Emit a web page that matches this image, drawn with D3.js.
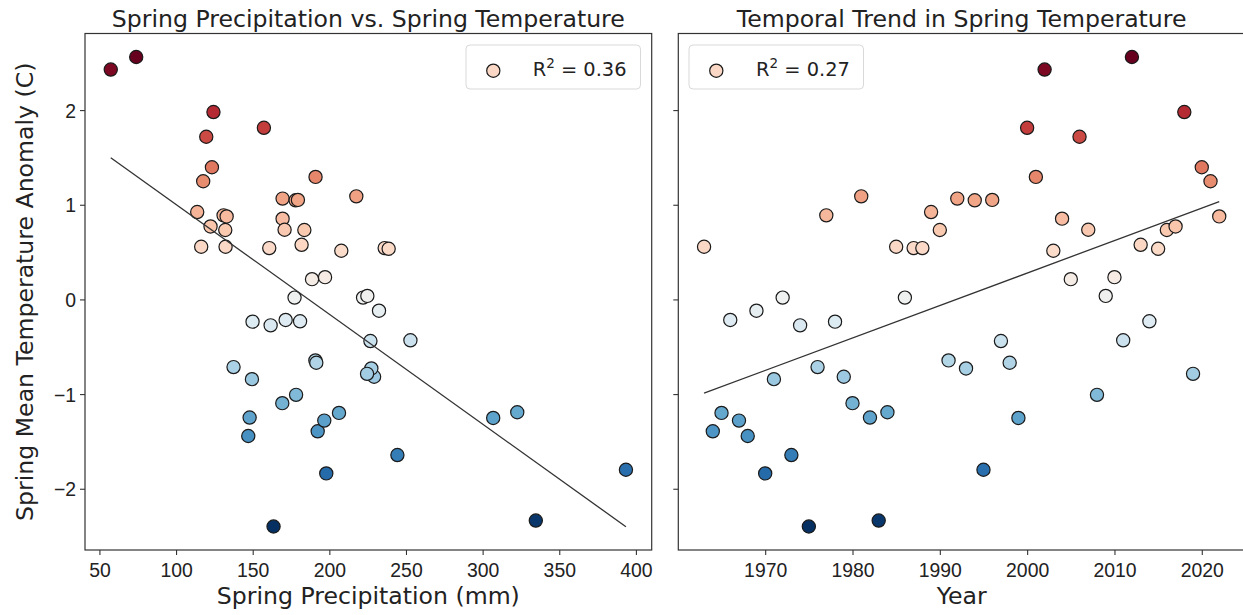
<!DOCTYPE html>
<html>
<head>
<meta charset="utf-8">
<script src="https://cdn.jsdelivr.net/npm/d3@7"></script>
<style>
  html, body { margin: 0; padding: 0; background: #fff; }
  svg { display: block; font-family: "DejaVu Sans", sans-serif; }
</style>
</head>
<body>
<svg id="chart" width="1243" height="615"></svg>
<script>
// ---------- data ----------
const years = [1963,1964,1965,1966,1967,1968,1969,1970,1971,1972,
               1973,1974,1975,1976,1977,1978,1979,1980,1981,1982,
               1983,1984,1985,1986,1987,1988,1989,1990,1991,1992,
               1993,1994,1995,1996,1997,1998,1999,2000,2001,2002,
               2003,2004,2005,2006,2007,2008,2009,2010,2011,2012,
               2013,2014,2015,2016,2017,2018,2019,2020,2021,2022];
const tempAnomaly = [0.556,-1.393,-1.199,-0.217,-1.280,-1.443,-0.119,-1.838,-0.842,0.019,
                     -1.644,-0.274,-2.399,-0.715,0.888,-0.235,-0.817,-1.096,1.089,-1.248,
                     -2.336,-1.192,0.556,0.019,0.542,0.542,0.923,0.733,-0.644,1.065,
                     -0.729,1.047,-1.799,1.051,-0.440,-0.669,-1.252,1.813,1.294,2.428,
                     0.514,0.853,0.214,1.718,0.736,-1.008,0.037,0.235,-0.432,2.561,
                     0.577,-0.231,0.535,0.733,0.771,1.979,-0.786,1.396,1.248,0.877];
const springPrecip = [116.4,192.4,206.3,171.5,196.7,147.1,232.4,198.0,149.5,177.3,
                      244.4,161.7,163.6,137.5,131.0,149.9,229.2,169.3,217.6,148.0,
                      334.7,322.6,132.3,222.0,160.8,236.1,113.8,132.1,190.9,169.5,
                      227.4,178.0,393.5,179.5,226.8,191.5,306.9,157.3,191.0,57.4,
                      207.8,169.5,188.7,119.7,170.8,178.3,224.8,197.2,252.9,74.0,
                      181.9,180.9,238.7,183.7,122.5,124.4,224.6,123.4,117.7,133.0];
const precipTicks = [50,100,150,200,250,300,350,400];
const yearTicks = [1970,1980,1990,2000,2010,2020];
const tempTicks = [-2,-1,0,1,2];
const panelTitles = ["Spring Precipitation vs. Spring Temperature", "Temporal Trend in Spring Temperature"];
const xLabels = ["Spring Precipitation (mm)", "Year"];
const yLabel = "Spring Mean Temperature Anomaly (C)";
const r2Values = ["0.36", "0.27"];

// ---------- layout ----------
const svg = d3.select("#chart");
const plotTop = 33.5, plotBottom = 550;
const panels = [
  { x0: 85, x1: 651.7, xs: springPrecip, ticks: precipTicks, fmt: d3.format("d"), legendX: 466, legendTextX: 532.7 },
  { x0: 678.3, x1: 1245, xs: years, ticks: yearTicks, fmt: d3.format("d"), legendX: 689, legendTextX: 756 }
];

function padDomain(arr) {
  const [a, b] = d3.extent(arr);
  const m = (b - a) * 0.05;
  return [a - m, b + m];
}

const y = d3.scaleLinear().domain(padDomain(tempAnomaly)).range([plotBottom, plotTop]);
const [tMin, tMax] = d3.extent(tempAnomaly);
const color = v => d3.interpolateRdBu(1 - (v - tMin) / (tMax - tMin));

const tickFont = 19.4;
const labelFont = 23.6;

panels.forEach((p, i) => {
  const x = d3.scaleLinear().domain(padDomain(p.xs)).range([p.x0, p.x1]);
  const g = svg.append("g");

  // regression
  const n = p.xs.length;
  const mx = d3.mean(p.xs), my = d3.mean(tempAnomaly);
  let sxy = 0, sxx = 0;
  for (let k = 0; k < n; k++) { sxy += (p.xs[k]-mx)*(tempAnomaly[k]-my); sxx += (p.xs[k]-mx)**2; }
  const slope = sxy / sxx, icpt = my - slope * mx;
  const [xa, xb] = d3.extent(p.xs);

  // points
  g.selectAll("circle.pt").data(d3.range(n)).join("circle")
    .attr("class", "pt")
    .attr("cx", k => x(p.xs[k]))
    .attr("cy", k => y(tempAnomaly[k]))
    .attr("r", 6.6)
    .attr("fill", k => color(tempAnomaly[k]))
    .attr("stroke", "#1a1a1a")
    .attr("stroke-width", 1.2);

  g.append("line")
    .attr("x1", x(xa)).attr("y1", y(icpt + slope * xa))
    .attr("x2", x(xb)).attr("y2", y(icpt + slope * xb))
    .attr("stroke", "#333").attr("stroke-width", 1.3);

  // axes
  const xAxis = g.append("g").attr("transform", `translate(0,${plotBottom})`)
    .call(d3.axisBottom(x).tickValues(p.ticks).tickFormat(p.fmt).tickSize(5).tickSizeOuter(0));
  xAxis.select(".domain").remove();
  xAxis.selectAll("text").attr("y", 27).attr("dy", null)
    .style("font-size", tickFont + "px").attr("fill", "#222");
  xAxis.selectAll("line").attr("stroke", "#333").attr("stroke-width", 1.1);

  const yAxis = g.append("g").attr("transform", `translate(${p.x0},0)`)
    .call(d3.axisLeft(y).tickValues(tempTicks).tickFormat(d3.format("d")).tickSize(5).tickSizeOuter(0));
  yAxis.select(".domain").remove();
  yAxis.selectAll("line").attr("stroke", "#333").attr("stroke-width", 1.1);
  if (i === 0) {
    yAxis.selectAll("text").attr("x", -9).attr("dy", "0.36em")
      .style("font-size", tickFont + "px").attr("fill", "#222");
  } else {
    yAxis.selectAll("text").remove();
  }

  // frame
  g.append("rect").attr("x", p.x0).attr("y", plotTop)
    .attr("width", p.x1 - p.x0).attr("height", plotBottom - plotTop)
    .attr("fill", "none").attr("stroke", "#333").attr("stroke-width", 1.2);

  // title
  g.append("text").attr("x", (p.x0 + p.x1) / 2).attr("y", 26.5)
    .attr("text-anchor", "middle").style("font-size", labelFont + "px").attr("fill", "#222")
    .text(panelTitles[i]);

  // x label
  g.append("text").attr("x", (p.x0 + p.x1) / 2).attr("y", 604)
    .attr("text-anchor", "middle").style("font-size", labelFont + "px").attr("fill", "#222")
    .text(xLabels[i]);

  // legend
  const lg = g.append("g");
  lg.append("rect").attr("x", p.legendX).attr("y", 45).attr("width", 174.5).attr("height", 44)
    .attr("rx", 4).attr("fill", "#fff").attr("fill-opacity", 0.8)
    .attr("stroke", "#d9d9d9").attr("stroke-width", 1);
  lg.append("circle").attr("cx", p.legendX + 27.3).attr("cy", 70.7).attr("r", 6.6)
    .attr("fill", color(tempAnomaly[0])).attr("stroke", "#1a1a1a").attr("stroke-width", 1.2);
  const t = lg.append("text").attr("x", p.legendTextX).attr("y", 75.5)
    .style("font-size", tickFont + "px").attr("fill", "#222");
  t.append("tspan").text("R");
  t.append("tspan").attr("dy", -8).style("font-size", "13.5px").text("2");
  t.append("tspan").attr("dy", 8).text(" = " + r2Values[i]);
});

// y label
svg.append("text")
  .attr("transform", `translate(33,${(plotTop + plotBottom) / 2}) rotate(-90)`)
  .attr("text-anchor", "middle").style("font-size", labelFont + "px").attr("fill", "#222")
  .text(yLabel);
</script>
</body>
</html>
